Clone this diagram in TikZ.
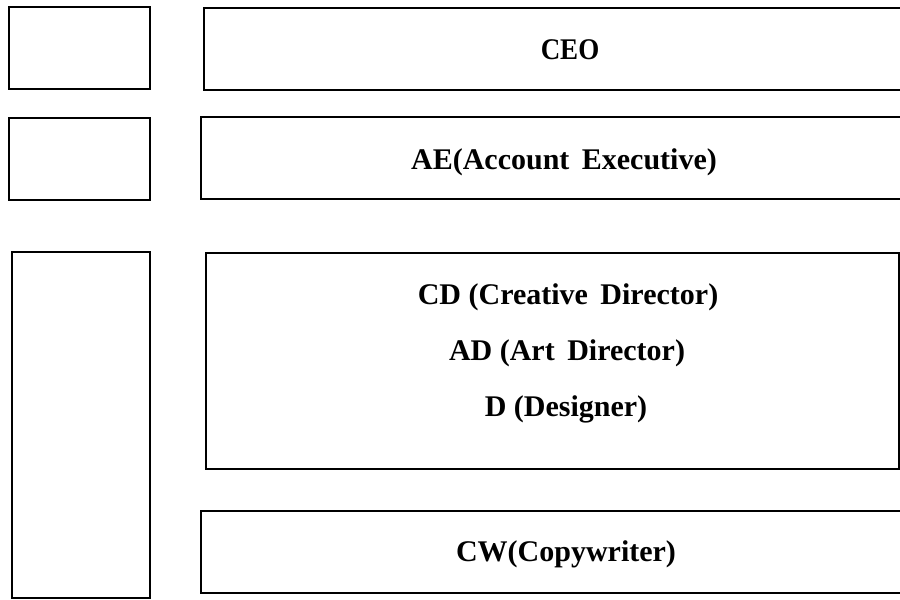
\documentclass[tikz,border=0pt]{standalone}
\usepackage{fontspec}
\setmainfont{Liberation Serif}
\begin{document}
\begin{tikzpicture}[x=1pt,y=-1pt,
  frame/.style={draw=black,line width=2pt,fill=white},
  label/.style={font=\bfseries\fontsize{30}{33}\selectfont,inner sep=0pt,anchor=center}]
\useasboundingbox (0,0) rectangle (900,600);
\clip (0,0) rectangle (900,600);
% left column
\path[frame] (9,7) rectangle (150,89) coordinate (l1);
\path[frame] (9,118) rectangle (150,200) coordinate (l2);
\path[frame] (12,252) rectangle (150,598) coordinate (l3);
% right column
\path[frame] (204,8) rectangle (906,90);
\path[frame] (201,117) rectangle (906,199);
\path[frame] (206,253) rectangle (899,469);
\path[frame] (201,511) rectangle (906,593);
% titles
\node[label,xscale=0.9] (ceo) at (570,50) {CEO};
\node[label] (ae) at (564,162) {AE(Account\, Executive)};
\node[label] (cd) at (568,297) {CD (Creative\, Director)};
\node[label] (ad) at (567,353) {AD (Art\, Director)};
\node[label] (d) at (566,409) {D (Designer)};
\node[label] (cw) at (566,554) {CW(Copywriter)};
\end{tikzpicture}
\end{document}
